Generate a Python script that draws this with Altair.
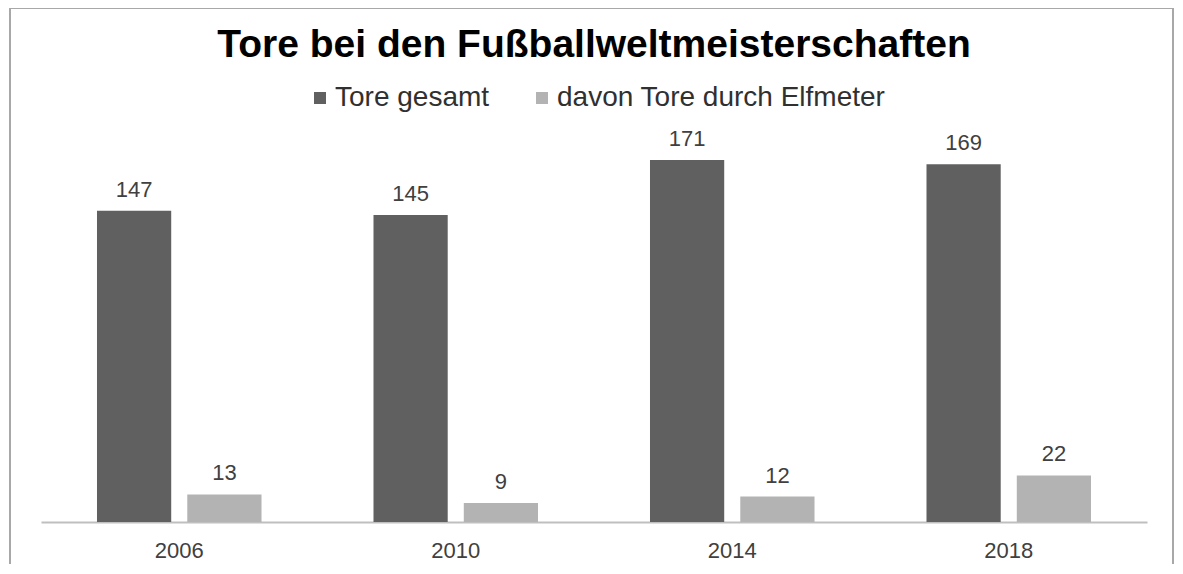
import altair as alt
import pandas as pd

title_text = "Tore bei den Fußballweltmeisterschaften"
years = ["2006", "2010", "2014", "2018"]
series = ["Tore gesamt", "davon Tore durch Elfmeter"]
tore_gesamt = [147, 145, 171, 169]
elfmeter = [13, 9, 12, 22]

rows = []
for i, y in enumerate(years):
    rows.append({"Jahr": y, "Serie": series[0], "Tore": tore_gesamt[i]})
    rows.append({"Jahr": y, "Serie": series[1], "Tore": elfmeter[i]})
df = pd.DataFrame(rows)

FONT = "Liberation Sans"
W, H = 1106, 381

x = alt.X("Jahr:N", sort=years,
          scale=alt.Scale(paddingInner=0.405, paddingOuter=0.2025),
          axis=alt.Axis(title=None, labelAngle=0, ticks=False, domainColor="#bfbfbf",
                        domainWidth=2, labelFontSize=22, labelFont=FONT,
                        labelColor="#404040", labelBaseline="alphabetic",
                        labelPadding=35, grid=False))
xo = alt.XOffset("Serie:N", sort=series,
                 scale=alt.Scale(paddingInner=0.178, paddingOuter=0))
y = alt.Y("Tore:Q", scale=alt.Scale(domain=[0, 180]), axis=None)
color = alt.Color("Serie:N", sort=series,
                  scale=alt.Scale(domain=series, range=["#606060", "#b3b3b3"]),
                  legend=alt.Legend(title=None, orient="none", direction="horizontal",
                                    legendX=265, legendY=-57, symbolType="square",
                                    symbolSize=144, symbolStrokeWidth=0,
                                    labelFontSize=28, labelFont=FONT, labelColor="#303030",
                                    labelOffset=1, labelLimit=0, columnPadding=38,
                                    padding=0))

base = alt.Chart(df)
bars = base.mark_bar().encode(x=x, xOffset=xo, y=y, color=color)
labels = base.mark_text(baseline="alphabetic", dy=-14, fontSize=22, font=FONT,
                        color="#404040").encode(x=x, xOffset=xo, y=y, text="Tore:Q")

frame = alt.Chart(alt.Data(values=[{}])).mark_rect(
    fill=None, stroke="#a8a8a8", strokeWidth=2, clip=False
).encode(x=alt.value(-31), x2=alt.value(1132), y=alt.value(-133), y2=alt.value(440))

title = alt.Chart(alt.Data(values=[{"t": title_text}])).mark_text(
    fontSize=39, font=FONT, fontWeight="bold", color="#000000",
    align="center", baseline="alphabetic"
).encode(x=alt.value(W / 2), y=alt.value(-84), text="t:N")

chart = alt.layer(frame, bars, labels, title).properties(
    width=W, height=H,
    autosize=alt.AutoSizeParams(type="none"),
    padding={"left": 33, "top": 133, "right": 28, "bottom": 42},
).configure_view(stroke=None)

chart.save("out.html", embed_options={"renderer": "svg", "actions": False})
